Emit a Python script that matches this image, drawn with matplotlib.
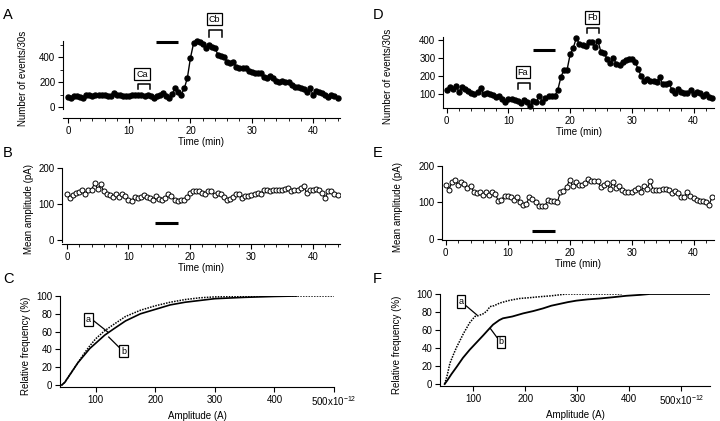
import numpy as np
import matplotlib
matplotlib.use("Agg")
import matplotlib.pyplot as plt
from matplotlib.ticker import MultipleLocator, FixedLocator, FixedFormatter

plt.rcParams['font.family'] = ['Liberation Sans', 'DejaVu Sans']
plt.rcParams['font.size'] = 7

# ---------------- data ----------------
# Panel A: number of events / 30 s (0.5 min bins)
A_events = [80, 75, 85, 85, 80, 75, 100, 95, 85, 100, 95, 100, 95, 85, 90, 110, 100, 95,
            85, 90, 90, 95, 95, 95, 95, 90, 95, 85, 70, 85, 100, 110, 90, 75, 105, 150,
            120, 100, 150, 235, 395, 510, 533, 525, 505, 470, 500, 480, 470, 420, 410, 400,
            360, 350, 360, 320, 310, 315, 310, 290, 280, 270, 275, 270, 240, 230, 250, 230,
            210, 200, 210, 200, 200, 180, 160, 160, 150, 145, 120, 150, 100, 130, 120, 110,
            100, 80, 95, 90, 75]
# Panel B: mean amplitude (pA)
B_amp = [128, 118, 125, 132, 133, 138, 128, 138, 140, 158, 142, 155, 135, 128, 125, 120,
         128, 120, 128, 122, 110, 108, 120, 118, 120, 125, 120, 118, 112, 122, 115, 112,
         118, 128, 122, 112, 108, 110, 112, 120, 130, 135, 135, 135, 132, 128, 135, 135,
         125, 130, 128, 120, 112, 115, 120, 128, 128, 118, 122, 122, 125, 128, 132, 128,
         140, 138, 135, 138, 138, 140, 140, 142, 145, 135, 140, 138, 145, 150, 130, 140,
         138, 142, 138, 130, 118, 135, 135, 128, 125]
# Panel D: number of events / 30 s
D_events = [125, 140, 130, 145, 115, 140, 130, 120, 110, 100, 115, 135, 100, 110, 100, 95,
            85, 90, 75, 60, 75, 75, 70, 65, 55, 70, 60, 35, 65, 60, 90, 60, 80, 90, 90, 90,
            125, 195, 235, 235, 320, 355, 410, 375, 370, 365, 385, 385, 360, 395, 330, 325,
            295, 270, 300, 265, 260, 280, 290, 295, 295, 280, 240, 200, 175, 185, 175, 175,
            170, 195, 155, 155, 160, 125, 110, 130, 115, 110, 105, 125, 100, 115, 105, 90,
            100, 85, 78]
# Panel E: mean amplitude (pA)
E_amp = [148, 135, 155, 162, 148, 155, 150, 140, 145, 130, 125, 128, 120, 130, 120, 128,
         122, 105, 108, 118, 118, 115, 108, 115, 100, 93, 95, 115, 110, 100, 90, 90, 90,
         108, 103, 103, 100, 128, 132, 142, 162, 145, 155, 148, 148, 152, 165, 160, 158,
         158, 143, 148, 153, 138, 155, 140, 145, 135, 130, 130, 128, 135, 140, 130, 145,
         138, 158, 135, 135, 135, 138, 137, 133, 125, 132, 125, 115, 115, 128, 118, 112,
         108, 105, 105, 100, 93, 115]
bin_min = 0.5
A_time = np.arange(len(A_events)) * bin_min
B_time = np.arange(len(B_amp)) * bin_min
D_time = np.arange(len(D_events)) * bin_min
E_time = np.arange(len(E_amp)) * bin_min

# Cumulative amplitude distributions (amplitude in 1e-12 A, %)
C_a_amp = [43, 48, 55, 62, 70, 80, 90, 100, 115, 130, 150, 175, 200, 225, 250, 275, 300, 350, 400, 450, 500]
C_a_pct = [0, 3, 10, 17, 25, 35, 44, 52, 61, 68, 77, 84, 89, 93, 96, 98, 99, 99.5, 100, 100, 100]
C_b_amp = [43, 48, 55, 62, 70, 80, 90, 100, 115, 130, 150, 175, 200, 225, 250, 275, 300, 350, 400, 437]
C_b_pct = [0, 3, 10, 17, 25, 33, 41, 47, 56, 63, 72, 80, 85, 90, 93, 95, 97, 98.5, 99.5, 100]
F_a_amp = [45, 50, 55, 62, 68, 75, 81, 87, 93, 103, 110, 119, 126, 132, 140, 151, 170, 189, 210,
           228, 250, 279, 300, 340, 385]
F_a_pct = [0, 10, 23, 33, 41, 49, 56, 62, 68, 75, 76, 78, 81, 86, 87, 90, 93, 95, 96, 97, 98,
           100, 100, 100, 100]
F_b_amp = [45, 50, 58, 68, 80, 93, 106, 119, 130, 138, 150, 157, 175, 196, 215, 234, 250, 266,
           282, 298, 320, 343, 370, 394, 420, 439, 480, 520, 554]
F_b_pct = [0, 4, 11, 19, 29, 38, 46, 54, 61, 66, 71, 73, 75, 78.5, 81, 84, 87, 89, 91, 92.6, 94,
           95, 96.5, 98, 99, 100, 100, 100, 100]

# drug application bars (min)
A_bar = (14.35, 18.0)
D_bar = (13.9, 17.6)

# ---------------- figure ----------------
W, H = 720, 421
fig = plt.figure(figsize=(W / 100, H / 100), dpi=100)


def add_ax(l, t, r, b):
    ax = fig.add_axes([l / W, 1 - b / H, (r - l) / W, (b - t) / H])
    for s in ('top', 'right'):
        ax.spines[s].set_visible(False)
    for s in ('left', 'bottom'):
        ax.spines[s].set_linewidth(0.8)
    ax.tick_params(direction='out', length=3.5, width=0.8, labelsize=7, pad=2)
    ax.tick_params(which='minor', direction='out', length=2, width=0.6)
    ax.patch.set_alpha(0)
    return ax


def boxed(ax, x, y, s):
    ax.text(x, y, s, ha='center', va='center', fontsize=6.5, clip_on=False,
            bbox=dict(boxstyle='square,pad=0.2', fc='white', ec='black', lw=0.9))


def bracket(ax, x0, x1, ytop, ybot):
    ax.plot([x0, x0, x1, x1], [ybot, ytop, ytop, ybot], color='black', lw=1.1, clip_on=False)


# Panel A
axA = add_ax(63, 41, 340, 109)
axA.plot(A_time, A_events, '-o', color='black', lw=1, ms=3.6, clip_on=False)
axA.set_xlim(-0.8, 44.4)
axA.set_ylim(-16, 530)
axA.spines['bottom'].set_position(('outward', 6.5))
axA.yaxis.set_major_locator(FixedLocator([0, 200, 400]))
axA.yaxis.set_minor_locator(FixedLocator([100, 300, 500]))
axA.xaxis.set_major_locator(MultipleLocator(10))
axA.xaxis.set_minor_locator(MultipleLocator(2))
axA.set_xlabel('Time (min)', labelpad=1)
axA.set_ylabel('Number of events/30s')
axA.yaxis.set_label_coords(-0.125, 0.45)
axA.plot(A_bar, [522, 522], color='black', lw=2.2, solid_capstyle='butt', clip_on=False)
bracket(axA, 11.4, 13.4, 182, 142)
boxed(axA, 12.1, 265, 'Ca')
bracket(axA, 23.0, 25.1, 616, 562)
boxed(axA, 23.9, 706, 'Cb')

# Panel B
axB = add_ax(62, 168, 340, 242)
axB.plot(B_time, B_amp, '-o', color='black', lw=0.8, ms=3.6, mfc='white', mew=0.7)
axB.set_xlim(-0.8, 44.4)
axB.set_ylim(-5, 200)
axB.spines['bottom'].set_position(('outward', 1.5))
axB.yaxis.set_major_locator(FixedLocator([0, 100, 200]))
axB.xaxis.set_major_locator(MultipleLocator(10))
axB.xaxis.set_minor_locator(MultipleLocator(2))
axB.set_xlabel('Time (min)', labelpad=1)
axB.set_ylabel('Mean amplitude (pA)')
axB.yaxis.set_label_coords(-0.10, 0.45)
axB.plot(A_bar, [48, 48], color='black', lw=2.2, solid_capstyle='butt')

# Panel C
axC = add_ax(60, 296, 334, 387)
axC.plot(C_a_amp, C_a_pct, color='black', lw=1.1, ls=(0, (1, 0.8)))
axC.plot(C_b_amp, C_b_pct, color='black', lw=1.2)
axC.set_xlim(40, 500)
axC.set_ylim(-2.2, 100)
axC.xaxis.set_major_locator(FixedLocator([100, 200, 300, 400, 500]))
axC.xaxis.set_major_formatter(FixedFormatter(['100', '200', '300', '400',
                                              r'500x10$^{\mathregular{-12}}$']))
axC.yaxis.set_major_locator(MultipleLocator(20))
axC.set_xlabel('Amplitude (A)', labelpad=2)
axC.set_ylabel('Relative frequency (%)')
axC.yaxis.set_label_coords(-0.105, 0.45)
axC.plot([95, 120.2], [73, 59.6], color='black', lw=0.9)
axC.plot([121.8, 138.7], [53.9, 42.7], color='black', lw=0.9)
boxed(axC, 87.4, 73.6, 'a')
boxed(axC, 147, 38.2, 'b')

# Panel D
axD = add_ax(443, 37, 714, 108)
axD.plot(D_time, D_events, '-o', color='black', lw=1, ms=3.6, clip_on=False)
axD.set_xlim(-0.6, 43.3)
axD.set_ylim(25, 415)
axD.yaxis.set_major_locator(FixedLocator([100, 200, 300, 400]))
axD.xaxis.set_major_locator(MultipleLocator(10))
axD.xaxis.set_minor_locator(MultipleLocator(2))
axD.set_xlabel('Time (min)', labelpad=1)
axD.set_ylabel('Number of events/30s')
axD.yaxis.set_label_coords(-0.185, 0.45)
axD.plot(D_bar, [346, 346], color='black', lw=2.2, solid_capstyle='butt')
bracket(axD, 11.5, 13.5, 160, 128)
boxed(axD, 12.3, 222, 'Fa')
bracket(axD, 22.8, 24.6, 464, 437)
boxed(axD, 23.6, 523, 'Fb')

# Panel E
axE = add_ax(442, 166, 714, 240)
axE.plot(E_time, E_amp, '-o', color='black', lw=0.8, ms=3.6, mfc='white', mew=0.7)
axE.set_xlim(-0.6, 43.3)
axE.set_ylim(-3, 200)
axE.yaxis.set_major_locator(FixedLocator([0, 100, 200]))
axE.xaxis.set_major_locator(MultipleLocator(10))
axE.xaxis.set_minor_locator(MultipleLocator(2))
axE.set_xlabel('Time (min)', labelpad=1)
axE.set_ylabel('Mean amplitude (pA)')
axE.yaxis.set_label_coords(-0.145, 0.45)
axE.plot(D_bar, [23, 23], color='black', lw=2.2, solid_capstyle='butt')

# Panel F
axF = add_ax(440, 294, 710, 386)
axF.plot(F_a_amp, F_a_pct, color='black', lw=1.1, ls=(0, (1, 0.8)))
axF.plot(F_b_amp, F_b_pct, color='black', lw=1.3)
axF.set_xlim(36, 555)
axF.set_ylim(-2.2, 100)
axF.xaxis.set_major_locator(FixedLocator([100, 200, 300, 400, 500]))
axF.xaxis.set_major_formatter(FixedFormatter(['100', '200', '300', '400',
                                              r'500x10$^{\mathregular{-12}}$']))
axF.yaxis.set_major_locator(MultipleLocator(20))
axF.set_xlabel('Amplitude (A)', labelpad=2)
axF.set_ylabel('Relative frequency (%)')
axF.yaxis.set_label_coords(-0.14, 0.45)
axF.plot([86.6, 107], [86.7, 76.7], color='black', lw=0.9)
axF.plot([132.5, 145.3], [61.9, 51.9], color='black', lw=0.9)
boxed(axF, 76, 92, 'a')
boxed(axF, 153.6, 46.7, 'b')

# panel letters
for s, x, y in [('A', 3, 8), ('B', 3, 146), ('C', 3, 272),
                ('D', 373, 8), ('E', 373, 146), ('F', 373, 272)]:
    fig.text(x / W, 1 - y / H, s, fontsize=10.5, ha='left', va='top')

fig.savefig('out.png', dpi=100)
